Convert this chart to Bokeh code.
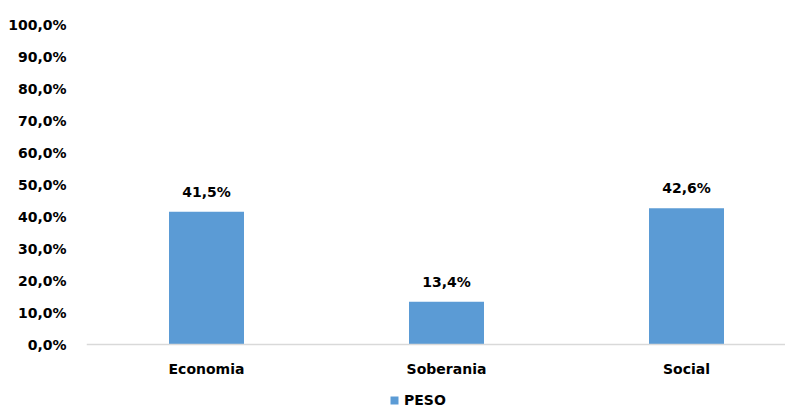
from bokeh.plotting import figure
from bokeh.models import ColumnDataSource, FixedTicker, Legend, LegendItem, Range1d, Span
from bokeh.core.properties import value
from bokeh.embed import file_html
from bokeh.resources import INLINE

categories = ["Economia", "Soberania", "Social"]
peso = [41.5, 13.4, 42.6]
bar_labels = ["41,5%", "13,4%", "42,6%"]
y_ticks = [0, 10, 20, 30, 40, 50, 60, 70, 80, 90, 100]
y_tick_labels = ["0,0%", "10,0%", "20,0%", "30,0%", "40,0%", "50,0%",
                 "60,0%", "70,0%", "80,0%", "90,0%", "100,0%"]
series_name = "PESO"

FONT = "DejaVu Sans"
BLUE = "#5B9BD5"

xs = list(range(len(categories)))
zeros = [0] * len(categories)
src = ColumnDataSource(dict(x=xs, top=peso, label=bar_labels, base=zeros, cat=categories))

p = figure(width=785, height=409, output_backend="svg", toolbar_location=None,
           x_range=Range1d(-0.5, 2.4125), y_range=Range1d(-20.31, 103.75),
           x_axis_location=None,
           min_border_left=86, min_border_right=0, min_border_top=12,
           min_border_bottom=0)
p.outline_line_color = None
p.xgrid.visible = False
p.ygrid.visible = False
p.background_fill_color = "white"
p.border_fill_color = "white"

# baseline (category axis line) at 0
p.add_layout(Span(location=0, dimension="width", line_color="#D9D9D9", line_width=1.5))

r = p.vbar(x="x", top="top", bottom="base", width=0.3125, source=src,
           fill_color=BLUE, line_color=None)
p.text(x="x", y="top", text="label", source=src, text_align="center",
       text_baseline="bottom", y_offset=-12, text_font=value(FONT),
       text_font_style="bold", text_font_size="14px", text_color="#000000")

# category labels
p.text(x="x", y="base", text="cat", source=src, text_align="center",
       text_baseline="middle", y_offset=24, text_font=value(FONT),
       text_font_style="bold", text_font_size="14px", text_color="#000000")

# Y axis
p.yaxis.ticker = FixedTicker(ticks=y_ticks)
p.yaxis.major_label_overrides = {t: l for t, l in zip(y_ticks, y_tick_labels)}
p.yaxis.axis_line_color = None
p.yaxis.major_tick_line_color = None
p.yaxis.minor_tick_line_color = None
p.yaxis.major_label_standoff = 14
p.yaxis.major_label_text_font = FONT
p.yaxis.major_label_text_font_style = "bold"
p.yaxis.major_label_text_font_size = "14px"
p.yaxis.major_label_text_color = "#000000"

legend = Legend(items=[LegendItem(label=series_name, renderers=[r])],
                orientation="horizontal", location=(303, 1),
                label_text_font=FONT, label_text_font_style="bold",
                label_text_font_size="14px", label_text_color="#000000",
                glyph_width=10, glyph_height=10, label_standoff=5,
                border_line_color=None, background_fill_alpha=0,
                padding=0, margin=0)
p.add_layout(legend, "center")

open("out.html", "w").write(file_html(p, INLINE))
